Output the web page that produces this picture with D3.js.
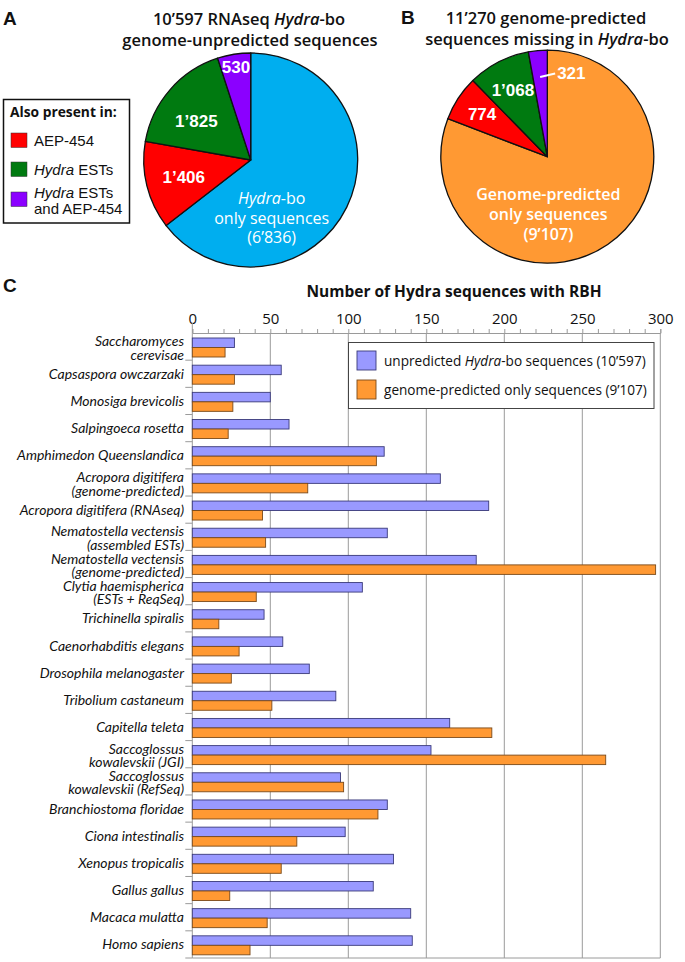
<!DOCTYPE html>
<html>
<head>
<meta charset="utf-8">
<script src="https://cdn.jsdelivr.net/npm/d3@7"></script>
<style>
  body { margin: 0; background: #fff; }
  svg { display: block; }
</style>
</head>
<body>
<svg id="chart" width="685" height="962"></svg>
<script>
// ---------------- DATA ----------------
const pieCategories = ["only", "AEP-454", "Hydra ESTs", "Hydra ESTs and AEP-454"];
const pieAValues = [6836, 1406, 1825, 530];
const pieBValues = [9107, 774, 1068, 321];
const pieAColors = ["#00aeef", "#ff0000", "#007a10", "#8b00ff"];
const pieBColors = ["#ff9933", "#ff0000", "#007a10", "#8b00ff"];
const pieALabels = ["6’836", "1’406", "1’825", "530"];
const pieBLabels = ["9’107", "774", "1’068", "321"];

const species = [
  ["Saccharomyces", "cerevisae"],
  ["Capsaspora owczarzaki"],
  ["Monosiga brevicolis"],
  ["Salpingoeca rosetta"],
  ["Amphimedon Queenslandica"],
  ["Acropora digitifera", "(genome-predicted)"],
  ["Acropora digitifera (RNAseq)"],
  ["Nematostella vectensis", "(assembled ESTs)"],
  ["Nematostella vectensis", "(genome-predicted)"],
  ["Clytia haemispherica", "(ESTs + ReqSeq)"],
  ["Trichinella spiralis"],
  ["Caenorhabditis elegans"],
  ["Drosophila melanogaster"],
  ["Tribolium castaneum"],
  ["Capitella teleta"],
  ["Saccoglossus", "kowalevskii (JGI)"],
  ["Saccoglossus", "kowalevskii (RefSeq)"],
  ["Branchiostoma floridae"],
  ["Ciona intestinalis"],
  ["Xenopus tropicalis"],
  ["Gallus gallus"],
  ["Macaca mulatta"],
  ["Homo sapiens"]
];
const unpredictedValues = [27, 57, 50, 62, 123, 159, 190, 125, 182, 109, 46, 58, 75, 92, 165, 153, 95, 125, 98, 129, 116, 140, 141];
const genomePredValues  = [21, 27, 26, 23, 118, 74, 45, 47, 297, 41, 17, 30, 25, 51, 192, 265, 97, 119, 67, 57, 24, 48, 37];
const majorTicks = [0, 50, 100, 150, 200, 250, 300];
const minorTicks = d3.range(0, 301, 10);
const seriesNames = ["unpredicted", "genome-predicted"];

// ---------------- DRAW ----------------
const svg = d3.select("#chart");
const myriad = "'Open Sans', 'Noto Sans', sans-serif";
const lato = "Lato, 'Open Sans', sans-serif";
const helv = "'Liberation Sans', Arial, sans-serif";

// Panel letters
[["A", 3, 25], ["B", 401, 24], ["C", 3, 292]].forEach(([t, x, yy]) => {
  svg.append("text").attr("x", x).attr("y", yy).text(t)
    .attr("font-family", helv).attr("font-weight", "bold").attr("font-size", 19).attr("fill", "#111");
});

// Titles
function titleLine(x, yy, parts) {
  const t = svg.append("text").attr("x", x).attr("y", yy).attr("text-anchor", "middle")
    .attr("font-family", myriad).attr("font-weight", 600).attr("font-size", 16.5).attr("fill", "#111");
  parts.forEach(([s, it]) => t.append("tspan").text(s).attr("font-style", it ? "italic" : "normal"));
}
titleLine(249, 25, [["10’597 RNAseq ", false], ["Hydra", true], ["-bo", false]]);
titleLine(250, 46, [["genome-unpredicted sequences", false]]);
titleLine(546, 24, [["11’270 genome-predicted", false]]);
titleLine(547, 45, [["sequences missing in ", false], ["Hydra", true], ["-bo", false]]);

// Pies
const pie = d3.pie().sort(null).value(d => d);
function drawPie(cx, cy, r, values, colors) {
  const g = svg.append("g").attr("transform", `translate(${cx},${cy})`);
  const arc = d3.arc().innerRadius(0).outerRadius(r);
  const arcs = pie(values);
  g.selectAll("path").data(arcs).join("path")
    .attr("d", arc).attr("fill", (d, i) => colors[i])
    .attr("stroke", "#111").attr("stroke-width", 1.3).attr("stroke-linejoin", "round");
  return { g, arcs };
}
function numLabel(g, d, rr, text, dx = 0, dy = 0) {
  const c = d3.arc().innerRadius(rr).outerRadius(rr).centroid(d);
  g.append("text").attr("x", c[0] + dx).attr("y", c[1] + dy + 6).attr("text-anchor", "middle")
    .attr("font-family", helv).attr("font-weight", "bold").attr("font-size", 17).attr("fill", "#fff").text(text);
}

const pA = drawPie(250.7, 160, 107, pieAValues, pieAColors);
numLabel(pA.g, pA.arcs[1], 69, pieALabels[1]);
numLabel(pA.g, pA.arcs[2], 68, pieALabels[2], -3, 6);
numLabel(pA.g, pA.arcs[3], 94, pieALabels[3]);
{
  const lines = [[["Hydra", true], ["-bo", false]], [["only sequences", false]], [["(" + pieALabels[0] + ")", false]]];
  lines.forEach((ln, i) => {
    const t = pA.g.append("text").attr("x", 21).attr("y", 44 + i * 19.5).attr("text-anchor", "middle")
      .attr("font-family", myriad).attr("font-size", 16).attr("fill", "#fff");
    ln.forEach(([s, it]) => t.append("tspan").text(s).attr("font-style", it ? "italic" : "normal"));
  });
}

const pB = drawPie(547.3, 156.7, 106.5, pieBValues, pieBColors);
numLabel(pB.g, pB.arcs[1], 78, pieBLabels[1]);
numLabel(pB.g, pB.arcs[2], 75, pieBLabels[2]);
{
  const c = d3.arc().innerRadius(80).outerRadius(80).centroid(pB.arcs[3]);
  pB.g.append("line").attr("x1", c[0]).attr("y1", c[1]).attr("x2", c[0] + 15).attr("y2", c[1] - 3.5)
    .attr("stroke", "#fff").attr("stroke-width", 2);
  pB.g.append("text").attr("x", c[0] + 17).attr("y", c[1] + 2).attr("text-anchor", "start")
    .attr("font-family", helv).attr("font-weight", "bold").attr("font-size", 17).attr("fill", "#fff").text(pieBLabels[3]);
  ["Genome-predicted", "only sequences", "(" + pieBLabels[0] + ")"].forEach((s, i) => {
    pB.g.append("text").attr("x", 1).attr("y", 43 + i * 20).attr("text-anchor", "middle")
      .attr("font-family", myriad).attr("font-weight", 600).attr("font-size", 16).attr("fill", "#fff").text(s);
  });
}

// Pie legend
{
  const g = svg.append("g");
  g.append("rect").attr("x", 3.5).attr("y", 99.5).attr("width", 126).attr("height", 123.5)
    .attr("fill", "#fff").attr("stroke", "#111").attr("stroke-width", 1.5);
  g.append("text").attr("x", 10).attr("y", 117).text("Also present in:")
    .attr("font-family", myriad).attr("font-weight", "bold").attr("font-size", 13.8).attr("fill", "#111");
  const items = [
    { i: 1, y: 133, lines: [[["AEP-454", false]]] },
    { i: 2, y: 162, lines: [[["Hydra", true], [" ESTs", false]]] },
    { i: 3, y: 192, lines: [[["Hydra", true], [" ESTs", false]], [["and AEP-454", false]]] }
  ];
  items.forEach(it => {
    g.append("rect").attr("x", 11).attr("y", it.y).attr("width", 16).attr("height", 14.5)
      .attr("fill", pieAColors[it.i]).attr("stroke", "#333").attr("stroke-width", 0.5);
    it.lines.forEach((ln, k) => {
      const t = g.append("text").attr("x", 34).attr("y", it.y + 12.5 + (it.lines.length > 1 ? (k * 16 - 7) : 0))
        .attr("font-family", helv).attr("font-size", 15).attr("fill", "#111");
      ln.forEach(([s, itl]) => t.append("tspan").text(s).attr("font-style", itl ? "italic" : "normal"));
    });
  });
}

// ---------------- BAR CHART ----------------
const x = d3.scaleLinear().domain([0, 300]).range([192.3, 660.3]);
const y = d3.scaleBand().domain(d3.range(species.length)).range([333, 958]).padding(0);
const bh = 9.5;
const gridC = "#9a9a9a";

svg.append("text").attr("x", 454).attr("y", 297).attr("text-anchor", "middle")
  .attr("font-family", myriad).attr("font-weight", "bold").attr("font-size", 15.5).attr("fill", "#111")
  .text("Number of Hydra sequences with RBH");

// gridlines
svg.append("g").selectAll("line").data(majorTicks.slice(1)).join("line")
  .attr("x1", d => x(d)).attr("x2", d => x(d)).attr("y1", 333).attr("y2", 958)
  .attr("stroke", gridC).attr("stroke-width", 1);

// top axis with minor ticks
const axisG = svg.append("g").attr("transform", "translate(0,333)")
  .call(d3.axisTop(x).tickValues(minorTicks).tickSize(4).tickFormat(""));
axisG.select(".domain").attr("stroke", gridC);
axisG.selectAll(".tick line").attr("stroke", gridC);
const labG = svg.append("g").attr("transform", "translate(0,333)")
  .call(d3.axisTop(x).tickValues(majorTicks).tickSize(0).tickPadding(9));
labG.select(".domain").remove();
labG.selectAll("text").attr("font-family", myriad).attr("font-size", 15).attr("fill", "#111");

// y axis line + bottom border
svg.append("line").attr("x1", x(0)).attr("x2", x(0)).attr("y1", 323).attr("y2", 958).attr("stroke", gridC);
svg.append("line").attr("x1", x(0)).attr("x2", x(300)).attr("y1", 958).attr("y2", 958).attr("stroke", gridC);

// category separator ticks
svg.append("g").selectAll("line").data(d3.range(1, species.length + 1)).join("line")
  .attr("x1", x(0) - 7).attr("x2", x(0))
  .attr("y1", d => 333 + d * y.step()).attr("y2", d => 333 + d * y.step())
  .attr("stroke", gridC);

// bars
const seriesColors = [["#9999ff", "#3a3a7a"], ["#ff9933", "#7a4a1a"]];
[unpredictedValues, genomePredValues].forEach((vals, s) => {
  svg.append("g").selectAll("rect").data(vals).join("rect")
    .attr("x", x(0)).attr("y", (d, i) => y(i) + 5 + s * bh)
    .attr("width", d => x(d) - x(0)).attr("height", bh)
    .attr("fill", seriesColors[s][0]).attr("stroke", seriesColors[s][1]).attr("stroke-width", 0.9);
});

// category labels
species.forEach((lines, i) => {
  const top = y(i), bot = top + y.step();
  lines.forEach((s, k) => {
    const yy = lines.length === 1 ? top + y.step() / 2 + 5 : bot - 14 + k * 13.5;
    svg.append("text").attr("x", 184).attr("y", yy).attr("text-anchor", "end")
      .attr("font-family", lato).attr("font-style", "italic").attr("font-size", 14).attr("fill", "#111").text(s);
  });
});

// bar legend
{
  const g = svg.append("g");
  g.append("rect").attr("x", 348.5).attr("y", 342.5).attr("width", 305.5).attr("height", 66)
    .attr("fill", "#fff").attr("stroke", "#444").attr("stroke-width", 1);
  const texts = [
    [["unpredicted ", false], ["Hydra", true], ["-bo sequences (10’597)", false]],
    [["genome-predicted only sequences (9’107)", false]]
  ];
  texts.forEach((parts, s) => {
    g.append("rect").attr("x", 357).attr("y", 351 + s * 29).attr("width", 19).attr("height", 19)
      .attr("fill", seriesColors[s][0]).attr("stroke", seriesColors[s][1]).attr("stroke-width", 0.9);
    const t = g.append("text").attr("x", 384).attr("y", 366 + s * 28.5)
      .attr("font-family", myriad).attr("font-size", 13.6).attr("fill", "#111");
    parts.forEach(([str, it]) => t.append("tspan").text(str).attr("font-style", it ? "italic" : "normal"));
  });
}
</script>
</body>
</html>
